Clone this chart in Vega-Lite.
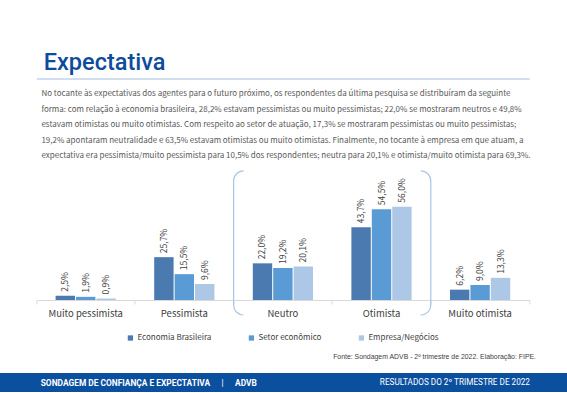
{
  "$schema": "https://vega.github.io/schema/vega-lite/v6.json",
  "padding": {"top": 51, "left": 0, "right": 0, "bottom": 0},
  "background": "white",
  "spacing": 0,
  "center": true,
  "resolve": {"scale": {"color": "independent"}, "legend": {"color": "independent"}},
  "config": {
    "view": {"stroke": null},
    "font": "Noto Sans CJK JP",
    "legend": {"layout": {"bottom": {"anchor": "middle"}}}
  },
  "vconcat": [
    {
      "width": 493,
      "height": 11,
      "title": {"text": "Expectativa", "anchor": "start", "frame": "group", "font": "Roboto", "fontSize": 23.5, "fontWeight": 500, "color": "#0d4c9c", "dx": 7, "offset": 4},
      "data": {"values": [{"k": 1}]},
      "mark": {"type": "rule", "color": "#a2bfe2", "strokeWidth": 1},
      "encoding": {"y": {"datum": 1, "type": "quantitative", "scale": {"domain": [0, 1]}, "axis": null}}
    },
    {
      "width": 493,
      "height": 100,
      "title": {
        "text": [
          "No tocante às expectativas dos agentes para o futuro próximo, os respondentes da última pesquisa se distribuíram da seguinte",
          "forma: com relação à economia brasileira, 28,2% estavam pessimistas ou muito pessimistas; 22,0% se mostraram neutros e 49,8%",
          "estavam otimistas ou muito otimistas. Com respeito ao setor de atuação, 17,3% se mostraram pessimistas ou muito pessimistas;",
          "19,2% apontaram neutralidade e 63,5% estavam otimistas ou muito otimistas. Finalmente, no tocante à empresa em que atuam, a",
          "expectativa era pessimista/muito pessimista para 10,5% dos respondentes; neutra para 20,1% e otimista/muito otimista para 69,3%."
        ],
        "anchor": "start", "frame": "group", "font": "Noto Sans CJK JP", "fontSize": 8, "fontWeight": "normal", "color": "#595959", "lineHeight": 15.5, "dx": 5, "offset": 10
      },
      "data": {"values": [
        {"cat": "Muito pessimista", "serie": "Economia Brasileira", "v": 2.5, "label": "2,5%"},
        {"cat": "Muito pessimista", "serie": "Setor econômico", "v": 1.9, "label": "1,9%"},
        {"cat": "Muito pessimista", "serie": "Empresa/Negócios", "v": 0.9, "label": "0,9%"},
        {"cat": "Pessimista", "serie": "Economia Brasileira", "v": 25.7, "label": "25,7%"},
        {"cat": "Pessimista", "serie": "Setor econômico", "v": 15.5, "label": "15,5%"},
        {"cat": "Pessimista", "serie": "Empresa/Negócios", "v": 9.6, "label": "9,6%"},
        {"cat": "Neutro", "serie": "Economia Brasileira", "v": 22.0, "label": "22,0%"},
        {"cat": "Neutro", "serie": "Setor econômico", "v": 19.2, "label": "19,2%"},
        {"cat": "Neutro", "serie": "Empresa/Negócios", "v": 20.1, "label": "20,1%"},
        {"cat": "Otimista", "serie": "Economia Brasileira", "v": 43.7, "label": "43,7%"},
        {"cat": "Otimista", "serie": "Setor econômico", "v": 54.5, "label": "54,5%"},
        {"cat": "Otimista", "serie": "Empresa/Negócios", "v": 56.0, "label": "56,0%"},
        {"cat": "Muito otimista", "serie": "Economia Brasileira", "v": 6.2, "label": "6,2%"},
        {"cat": "Muito otimista", "serie": "Setor econômico", "v": 9.0, "label": "9,0%"},
        {"cat": "Muito otimista", "serie": "Empresa/Negócios", "v": 13.3, "label": "13,3%"}
      ]},
      "layer": [
        {
          "layer": [
            {
              "mark": {"type": "bar"},
              "encoding": {
                "x": {"field": "cat", "type": "nominal",
                  "scale": {"domain": ["Muito pessimista", "Pessimista", "Neutro", "Otimista", "Muito otimista"], "paddingInner": 0, "paddingOuter": 0},
                  "axis": {"title": null, "labelAngle": 0, "domainColor": "#d9d9d9", "tickColor": "#d9d9d9", "tickSize": 4, "bandPosition": 1, "tickExtra": true, "labelFontSize": 9.5, "labelColor": "#404040", "labelPadding": 4}},
                "xOffset": {"field": "serie", "type": "nominal", "sort": ["Economia Brasileira", "Setor econômico", "Empresa/Negócios"], "scale": {"paddingInner": 0.05, "paddingOuter": 0.94}},
                "y": {"field": "v", "type": "quantitative", "scale": {"domain": [0, 60]}, "axis": null},
                "color": {"field": "serie", "type": "nominal", "sort": ["Economia Brasileira", "Setor econômico", "Empresa/Negócios"],
                  "scale": {"range": ["#4a7ab0", "#5b9bd5", "#adc7e7"]},
                  "legend": {"orient": "bottom", "direction": "horizontal", "title": null, "symbolType": "square", "symbolSize": 28, "symbolStrokeWidth": 0, "labelFontSize": 8, "labelColor": "#404040", "columnPadding": 36, "labelOffset": 3, "offset": 5, "padding": 11}}
              }
            },
            {
              "mark": {"type": "text", "angle": 270, "align": "left", "baseline": "middle", "dx": 4, "fontSize": 8.5, "color": "#404040"},
              "encoding": {
                "x": {"field": "cat", "type": "nominal"},
                "xOffset": {"field": "serie", "type": "nominal", "sort": ["Economia Brasileira", "Setor econômico", "Empresa/Negócios"]},
                "y": {"field": "v", "type": "quantitative"},
                "text": {"field": "label"}
              }
            }
          ]
        },
        {
          "data": {"values": [{"from": 2, "to": 4, "top": 77.5, "bottom": -9}]},
          "mark": {"type": "rect", "fill": null, "stroke": "#a9c5e8", "strokeWidth": 1.2, "cornerRadius": 10, "strokeDash": [0, 177.2, 155.6, 177.2, 155.6]},
          "encoding": {
            "x": {"field": "from", "type": "quantitative", "scale": {"domain": [0, 5]}, "axis": null},
            "x2": {"field": "to"},
            "y": {"field": "top", "type": "quantitative"},
            "y2": {"field": "bottom"}
          }
        }
      ],
      "resolve": {"scale": {"x": "independent"}, "axis": {"x": "independent"}}
    },
    {
      "width": 567,
      "height": 19,
      "view": {"fill": "#0b4f9f", "stroke": null},
      "title": {"text": "Fonte: Sondagem ADVB - 2º trimestre de 2022. Elaboração: FIPE.", "anchor": "end", "frame": "group", "font": "Liberation Sans", "fontSize": 6.9, "fontWeight": "normal", "color": "#404040", "dx": -31, "offset": 12},
      "data": {"values": [{"a": "SONDAGEM DE CONFIANÇA E EXPECTATIVA", "b": "|", "c": "ADVB", "d": "RESULTADOS DO 2º TRIMESTRE DE 2022"}]},
      "layer": [
        {
          "mark": {"type": "text", "align": "left", "baseline": "middle", "font": "Roboto", "fontWeight": 700, "fontSize": 8.4, "color": "white"},
          "encoding": {"x": {"datum": 0.0718, "type": "quantitative", "scale": {"domain": [0, 1]}, "axis": null}, "text": {"field": "a"}}
        },
        {
          "mark": {"type": "text", "align": "left", "baseline": "middle", "font": "Roboto", "fontWeight": 400, "fontSize": 8.4, "color": "white"},
          "encoding": {"x": {"datum": 0.3905, "type": "quantitative"}, "text": {"field": "b"}}
        },
        {
          "mark": {"type": "text", "align": "left", "baseline": "middle", "font": "Roboto", "fontWeight": 700, "fontSize": 8.4, "color": "white"},
          "encoding": {"x": {"datum": 0.4145, "type": "quantitative"}, "text": {"field": "c"}}
        },
        {
          "mark": {"type": "text", "align": "right", "baseline": "middle", "font": "Roboto", "fontWeight": 400, "fontSize": 8.2, "color": "white"},
          "encoding": {"x": {"datum": 0.9347, "type": "quantitative"}, "text": {"field": "d"}}
        }
      ]
    }
  ]
}
